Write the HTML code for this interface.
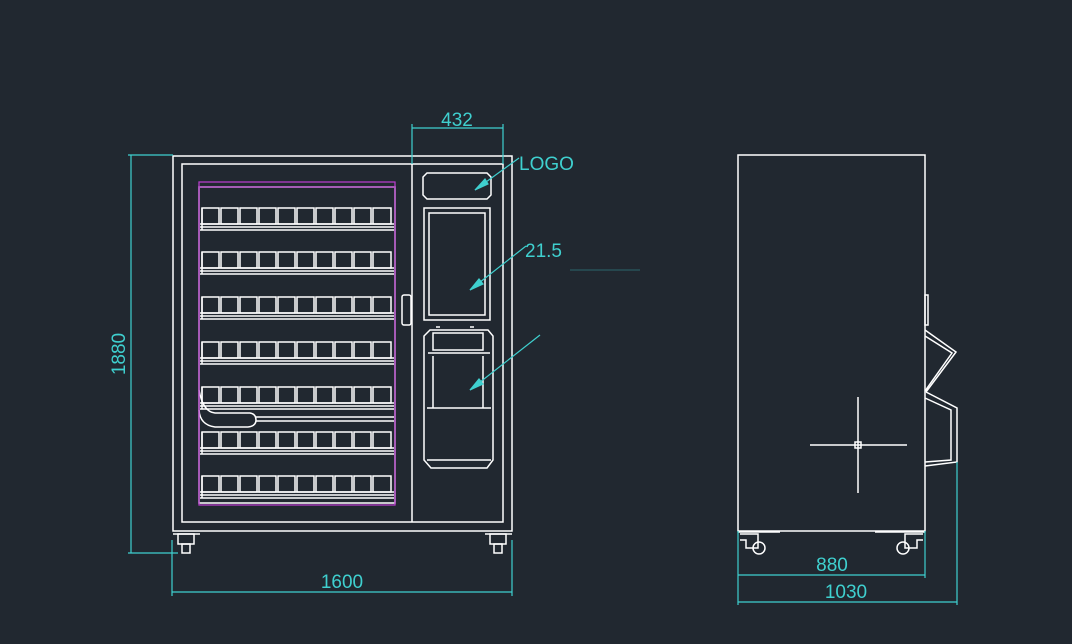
<!DOCTYPE html>
<html><head><meta charset="utf-8"><style>
html,body{margin:0;padding:0;background:#212830;}
svg{display:block}
text{font-family:"Liberation Sans",sans-serif;fill:#3fd0cf;font-size:19px;}
</style></head><body>
<svg width="1072" height="644" viewBox="0 0 1072 644" xmlns="http://www.w3.org/2000/svg">
<rect width="1072" height="644" fill="#212830"/>
<defs>
<g id="shelf" stroke="#fff" stroke-width="1.5" fill="none">
  <rect x="202" y="0" width="17" height="16"/><rect x="221" y="0" width="17" height="16"/>
  <rect x="240" y="0" width="17" height="16"/><rect x="259" y="0" width="17" height="16"/>
  <rect x="278" y="0" width="17" height="16"/><rect x="297" y="0" width="17" height="16"/>
  <rect x="316" y="0" width="17" height="16"/><rect x="335" y="0" width="17" height="16"/>
  <rect x="354" y="0" width="17" height="16"/><rect x="373" y="0" width="18" height="16"/>
  <line x1="200" y1="16" x2="394" y2="16"/><line x1="200" y1="19" x2="394" y2="19"/>
  <line x1="200" y1="22" x2="394" y2="22"/>
  <line x1="202" y1="0" x2="202" y2="22"/>
</g>
</defs>
<g stroke="#fff" stroke-width="1.5" fill="none">
  <rect x="173" y="156" width="339" height="375"/>
  <rect x="182" y="164" width="321" height="358"/>
  <line x1="412" y1="164" x2="412" y2="522"/>
  <rect x="199" y="187" width="196" height="316"/>
  <rect x="402" y="295" width="9" height="30" rx="2"/>
  <path d="M427 173 H487 L491 177 V195 L487 199 H427 L423 195 V177 Z"/>
  <rect x="424" y="208" width="66" height="112"/>
  <rect x="429" y="213" width="56" height="102"/>
  <path d="M430 330 H488 L493 336 V460 L487 468 H431 L424 460 V336 Z"/>
  <rect x="433" y="333" width="50" height="17"/>
  <path d="M428 353 H490 M433 356 V408 M483 356 V408 M427 408 H491"/>
  <line x1="427" y1="460" x2="491" y2="460"/>
  <line x1="436" y1="327" x2="440" y2="327"/><line x1="470" y1="327" x2="474" y2="327"/>
  <path d="M199 390 Q203 412 215 413 H250 Q256 414 256 420 Q256 426 248 427 H215 Q200 425 199 410"/>
  <line x1="256" y1="417" x2="394" y2="417"/><line x1="256" y1="421" x2="394" y2="421"/>
  <rect x="178" y="534" width="16" height="10"/><rect x="182" y="544" width="8" height="9"/>
  <rect x="490" y="534" width="16" height="10"/><rect x="494" y="544" width="8" height="9"/>
  <line x1="173" y1="534" x2="200" y2="534"/><line x1="485" y1="534" x2="512" y2="534"/>
</g>
<use href="#shelf" y="208"/><use href="#shelf" y="252"/><use href="#shelf" y="297"/>
<use href="#shelf" y="342"/><use href="#shelf" y="387"/><use href="#shelf" y="432"/><use href="#shelf" y="476"/>
<line x1="199" y1="187" x2="395" y2="187" stroke="#b33cc8" stroke-width="1.3"/>
<rect x="199" y="182" width="196" height="323" stroke="#b33cc8" stroke-width="1.3" fill="none"/>
<g stroke="#fff" stroke-width="1.5" fill="none">
  <rect x="738" y="155" width="187" height="376"/>
  <rect x="925" y="295" width="3" height="30"/>
  <path d="M925 330 L956 352 L926 392 M925 336 L952 353 L925 391"/>
  <path d="M926 392 L957 408 V462 L925 466 M925 398 L951 410 V460 L925 462"/>
  <line x1="810" y1="445" x2="907" y2="445"/><line x1="858" y1="397" x2="858" y2="493"/>
  <rect x="855" y="442" width="6" height="6"/>
  <path d="M740 534 H758 V548 H746 V540 H740"/><circle cx="759" cy="548" r="6"/>
  <path d="M923 534 H905 V548 H917 V540 H923"/><circle cx="903" cy="548" r="6"/>
  <line x1="738" y1="532" x2="780" y2="532"/><line x1="875" y1="532" x2="925" y2="532"/>
</g>
<g stroke="#3fd0cf" stroke-width="1.2" fill="#3fd0cf">
  <line x1="412" y1="128" x2="503" y2="128"/><line x1="412" y1="124" x2="412" y2="164" /><line x1="503" y1="124" x2="503" y2="164"/>
  <line x1="128" y1="155" x2="173" y2="155"/><line x1="128" y1="553" x2="178" y2="553"/><line x1="131" y1="155" x2="131" y2="553"/>
  <line x1="172" y1="540" x2="172" y2="596"/><line x1="512" y1="540" x2="512" y2="596"/><line x1="172" y1="592" x2="512" y2="592"/>
  <line x1="738" y1="531" x2="738" y2="605"/><line x1="925" y1="531" x2="925" y2="578"/><line x1="957" y1="462" x2="957" y2="605"/>
  <line x1="738" y1="575" x2="925" y2="575"/><line x1="738" y1="602" x2="957" y2="602"/>
  <line x1="519" y1="158" x2="475" y2="190"/><polygon points="475,190 485,179 488,184"/>
  <line x1="526" y1="246" x2="470" y2="290"/><polygon points="470,290 479,279 483,284"/>
  <line x1="540" y1="335" x2="470" y2="390"/><polygon points="470,390 479,379 483,384"/>
  <line x1="570" y1="270" x2="640" y2="270" stroke-opacity="0.3"/>
</g>
<text x="457" y="126" text-anchor="middle">432</text>
<text x="519" y="170" font-size="18">LOGO</text>
<text x="525" y="257" font-size="18">21.5</text>
<text x="125" y="354" text-anchor="middle" transform="rotate(-90 125 354)">1880</text>
<text x="342" y="588" text-anchor="middle">1600</text>
<text x="832" y="571" text-anchor="middle">880</text>
<text x="846" y="598" text-anchor="middle">1030</text>
</svg>
</body></html>
